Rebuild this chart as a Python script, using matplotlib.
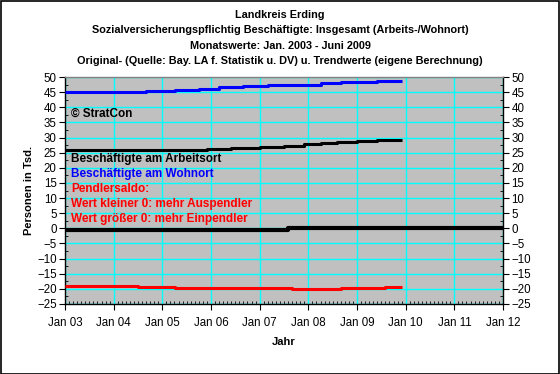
import matplotlib.pyplot as plt
from matplotlib.ticker import MultipleLocator
from matplotlib.patches import Rectangle

plt.rcParams['font.family'] = ['Liberation Sans', 'DejaVu Sans']

# step trend series: month index (since Jan 2003) where each level starts, plus end month
wohnort_start = [0, 20, 27, 33, 38, 44, 50, 55, 63, 68, 77]
wohnort_vals = [45.0, 45.3, 45.8, 46.1, 46.6, 46.9, 47.2, 47.5, 47.9, 48.3, 48.7]
wohnort_end = 83

arbeit_start = [0, 35, 41, 48, 54, 59, 63, 67, 72, 77]
arbeit_vals = [26.0, 26.3, 26.6, 27.0, 27.3, 27.7, 28.2, 28.5, 28.9, 29.2]
arbeit_end = 83

saldo_start = [0, 18, 27, 56, 68, 79]
saldo_vals = [-19.2, -19.4, -19.7, -20.0, -19.7, -19.4]
saldo_end = 83

null_start = [0.3, 55]
null_vals = [-0.5, 0.0]
null_end = 108

year_labels = ['Jan 03', 'Jan 04', 'Jan 05', 'Jan 06', 'Jan 07',
               'Jan 08', 'Jan 09', 'Jan 10', 'Jan 11', 'Jan 12']

titles = ['Landkreis Erding',
          'Sozialversicherungspflichtig Beschäftigte: Insgesamt (Arbeits-/Wohnort)',
          'Monatswerte: Jan. 2003 - Juni 2009',
          'Original- (Quelle: Bay. LA f. Statistik u. DV) u. Trendwerte (eigene Berechnung)']


def step_xy(starts, vals, end):
    xs = [s / 12 for s in starts] + [end / 12]
    ys = list(vals) + [vals[-1]]
    return xs, ys


fig = plt.figure(figsize=(5.6, 3.74), dpi=100)
fig.patch.set_facecolor('white')
ax = fig.add_axes([65 / 560, 1 - 304 / 374, 438 / 560, 227 / 374])
ax.set_facecolor('#c0c0c0')

for starts, vals, end, col, lw in [
        (null_start, null_vals, null_end, 'black', 3.0),
        (saldo_start, saldo_vals, saldo_end, '#ff0000', 2.2),
        (arbeit_start, arbeit_vals, arbeit_end, 'black', 2.2),
        (wohnort_start, wohnort_vals, wohnort_end, '#0000ff', 2.2)]:
    xs, ys = step_xy(starts, vals, end)
    ax.step(xs, ys, where='post', color=col, lw=lw, solid_capstyle='butt', zorder=3)

ax.set_xlim(0, 9)
ax.set_ylim(-25, 50)
ax.set_xticks(range(10))
ax.set_xticklabels(year_labels)
ax.xaxis.set_minor_locator(MultipleLocator(1 / 12))
ax.yaxis.set_major_locator(MultipleLocator(5))
ax.yaxis.set_minor_locator(MultipleLocator(2.5))
ax.grid(True, which='major', color='#00ffff', lw=1.0, zorder=1)
ax.set_axisbelow(True)
ax.tick_params(axis='both', which='major', labelsize=8.3, length=4, direction='out', pad=2)
ax.tick_params(axis='both', which='minor', length=2, direction='in')
ax.tick_params(axis='y', which='both', right=True, labelright=True)
ax.tick_params(axis='x', which='major', pad=5)
for s in ax.spines.values():
    s.set_linewidth(1.0)
ax.spines['top'].set_color('#808080')

ax.set_xlabel('Jahr', fontsize=8, fontweight='bold', labelpad=6)
ax.set_ylabel('Personen in Tsd.', fontsize=8, fontweight='bold', labelpad=2)

for i, t in enumerate(titles):
    fig.text(0.5, 1 - (15 + 15.3 * i) / 374, t, ha='center', va='center',
             fontsize=7.8, fontweight='bold')

legend_items = [('© StratCon', 'black', 114),
                ('Beschäftigte am Arbeitsort', 'black', 159),
                ('Beschäftigte am Wohnort', '#0000ff', 174),
                ('Pendlersaldo:', '#ff0000', 189),
                ('Wert kleiner 0: mehr Auspendler', '#ff0000', 204),
                ('Wert größer 0: mehr Einpendler', '#ff0000', 219)]
for txt, col, ypx in legend_items:
    fig.text(71 / 560, 1 - ypx / 374, txt, ha='left', va='center', color=col,
             fontsize=8.5, fontweight='bold', zorder=5)

fig.patches.append(Rectangle((0.001, 0.001), 0.997, 0.997, transform=fig.transFigure,
                             fill=False, edgecolor='black', lw=1.2))

fig.savefig('out.png', dpi=100)
